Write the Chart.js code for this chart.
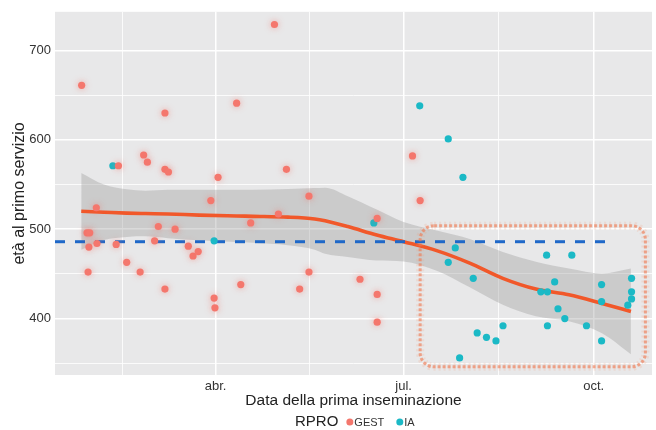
<!DOCTYPE html>
<html>
<head>
<meta charset="utf-8">
<title>età al primo servizio</title>
<script src="https://cdn.jsdelivr.net/npm/chart.js@4"></script>
<style>
  html, body { margin: 0; padding: 0; background: #fff; }
  #wrap { width: 656px; height: 430px; }
</style>
</head>
<body>
<div id="wrap"><canvas id="chart" width="656" height="430"></canvas></div>
<script>
// day of year (1 Jan = 0) of the first insemination, age at first service
const gestDays = [25.2, 65.5, 100.2, 118.5, 55.2, 57, 43, 65.5, 67.2, 91.2, 124.3, 87.7, 135.2, 32.3, 120.4, 107, 62.3, 70.4, 27.8, 29.1, 60.5, 28.7, 32.6, 41.9, 76.8, 79.1, 81.6, 47, 28.3, 53.5, 65.5, 102.2, 89.3, 89.7, 130.7, 135.2, 168.2, 159.9, 168.2, 168.2, 185.3, 189];
const gestAge = [661, 630, 641, 729, 583, 575, 571, 567, 564, 558, 567, 532, 537, 524, 517, 507, 503, 500, 496, 496, 487, 480, 484, 483, 481, 470, 475, 463, 452, 452, 433, 438, 423, 412, 433, 452, 512, 444, 427, 396, 582, 532];

const iaDays = [40.3, 89.3, 166.6, 188.8, 202.6, 209.7, 206, 202.6, 214.7, 250.2, 262.4, 254.1, 247.4, 250.6, 255.7, 259, 250.6, 269.5, 276.8, 276.8, 276.8, 289.5, 291.3, 291.3, 291.3, 229.1, 216.6, 221.1, 225.7, 208.1];
const iaAge = [571, 487, 507, 638, 601, 558, 479, 463, 445, 471, 471, 441, 430, 430, 411, 400, 392, 392, 438, 419, 375, 415, 445, 430, 422, 392, 384, 379, 375, 356];

// loess fit with its confidence band
const smoothDays = [25, 36, 47, 56, 67, 82, 100, 108, 125, 138, 143, 154, 168, 181, 197, 213, 229, 245, 261, 277, 291];
const smoothFit = [520, 519, 518, 517.5, 517, 515.8, 514.8, 514.4, 513.5, 511.5, 509.5, 503, 493.5, 486, 476, 462, 445, 433, 426.6, 417, 408];
const smoothUpper = [563, 550, 544.6, 543, 544, 544, 544, 544, 545, 546, 546.5, 537, 522, 508, 498.5, 489, 474.5, 463.5, 456, 450.5, 456];
const smoothLower = [477, 488, 491.4, 492, 490, 487.6, 485.6, 484.8, 482, 477, 472.5, 469, 465, 464, 453.5, 435, 415.5, 402.5, 397, 383.5, 360];

// mean reference line and highlighted zone
const meanAge = 486;
const meanDays = [12.3, 282.5];
const rectDays = [189, 298];
const rectAge = [346, 504];

const xTickDays = [45, 90, 135.5, 181, 227, 273];
const xTickLabels = ['', 'abr.', '', 'jul.', '', 'oct.'];
const yTickValues = [350, 400, 450, 500, 550, 600, 650, 700];
const yTickLabels = ['', '400', '', '500', '', '600', '', '700'];

const FONT = '"Liberation Sans", Arial, sans-serif';
const RED = '#f4776d';
const TEAL = '#1bb9c6';

const pts = (xs, ys) => xs.map((d, i) => ({ x: d, y: ys[i] }));

const panelBg = {
  id: 'panelBg',
  beforeDraw(chart) {
    const { ctx, chartArea: a } = chart;
    ctx.save();
    ctx.fillStyle = '#fff';
    ctx.fillRect(0, 0, chart.width, chart.height);
    ctx.fillStyle = '#e8e8e9';
    ctx.fillRect(a.left, a.top, a.right - a.left, a.bottom - a.top);
    ctx.restore();
  }
};

const redHalo = {
  id: 'redHalo',
  beforeDatasetDraw(chart, args) {
    if (args.index !== 0) return;
    chart.ctx.save();
    chart.ctx.shadowColor = 'rgba(245,105,95,0.55)';
    chart.ctx.shadowBlur = 6;
  },
  afterDatasetDraw(chart, args) {
    if (args.index !== 0) return;
    chart.ctx.restore();
  }
};

const zoneBox = {
  id: 'zoneBox',
  afterDatasetsDraw(chart) {
    const { ctx, chartArea: a, scales: { x, y } } = chart;
    const x0 = x.getPixelForValue(rectDays[0]);
    const x1 = x.getPixelForValue(rectDays[1]);
    const y0 = y.getPixelForValue(rectAge[1]);
    const y1 = y.getPixelForValue(rectAge[0]);
    ctx.save();
    ctx.beginPath();
    ctx.rect(a.left, a.top, a.right - a.left, a.bottom - a.top);
    ctx.clip();
    ctx.beginPath();
    ctx.roundRect(x0, y0, x1 - x0, y1 - y0, 14);
    ctx.strokeStyle = 'rgba(245,150,110,0.18)';
    ctx.lineWidth = 8;
    ctx.setLineDash([2, 3]);
    ctx.stroke();
    ctx.beginPath();
    ctx.roundRect(x0, y0, x1 - x0, y1 - y0, 14);
    ctx.strokeStyle = 'rgba(238,120,80,0.6)';
    ctx.lineWidth = 3;
    ctx.setLineDash([3, 2]);
    ctx.stroke();
    ctx.restore();
  }
};

const bottomLegend = {
  id: 'bottomLegend',
  afterDraw(chart) {
    const { ctx } = chart;
    const yc = 422;
    ctx.save();
    ctx.textBaseline = 'middle';
    ctx.textAlign = 'left';
    ctx.fillStyle = '#222';
    ctx.font = '15px ' + FONT;
    let x = 295;
    ctx.fillText('RPRO', x, yc);
    x += ctx.measureText('RPRO').width + 8;
    ctx.fillStyle = RED;
    ctx.beginPath(); ctx.arc(x + 3.5, yc, 3.5, 0, Math.PI * 2); ctx.fill();
    x += 8;
    ctx.fillStyle = '#333';
    ctx.font = '11px ' + FONT;
    ctx.fillText('GEST', x, yc + 1);
    x += ctx.measureText('GEST').width + 12;
    ctx.fillStyle = TEAL;
    ctx.beginPath(); ctx.arc(x + 3.5, yc, 3.5, 0, Math.PI * 2); ctx.fill();
    x += 8;
    ctx.fillStyle = '#333';
    ctx.fillText('IA', x, yc + 1);
    ctx.restore();
  }
};

new Chart(document.getElementById('chart'), {
  type: 'line',
  data: {
    datasets: [
      {
        label: 'GEST',
        data: pts(gestDays, gestAge),
        showLine: false,
        pointRadius: 3.6,
        pointBorderWidth: 0,
        pointBackgroundColor: RED,
        order: 0
      },
      {
        label: 'IA',
        data: pts(iaDays, iaAge),
        showLine: false,
        pointRadius: 3.6,
        pointBorderWidth: 0,
        pointBackgroundColor: TEAL,
        order: 0
      },
      {
        label: 'media',
        data: meanDays.map(d => ({ x: d, y: meanAge })),
        borderColor: '#1f68c8',
        borderWidth: 3,
        borderDash: [10, 10],
        pointRadius: 0,
        order: 1
      },
      {
        label: 'loess',
        data: pts(smoothDays, smoothFit),
        borderColor: '#f1582a',
        borderWidth: 3.6,
        pointRadius: 0,
        cubicInterpolationMode: 'monotone',
        order: 2
      },
      {
        label: 'upper',
        data: pts(smoothDays, smoothUpper),
        borderWidth: 0,
        pointRadius: 0,
        backgroundColor: 'rgba(150,150,150,0.35)',
        fill: '+1',
        cubicInterpolationMode: 'monotone',
        order: 3
      },
      {
        label: 'lower',
        data: pts(smoothDays, smoothLower),
        borderWidth: 0,
        pointRadius: 0,
        fill: false,
        cubicInterpolationMode: 'monotone',
        order: 4
      }
    ]
  },
  options: {
    responsive: false,
    animation: false,
    events: [],
    layout: { padding: { top: 8, left: 0, right: 0, bottom: 0 } },
    plugins: {
      legend: { display: false },
      tooltip: { enabled: false },
      title: { display: false }
    },
    scales: {
      x: {
        type: 'linear',
        min: 12.3,
        max: 301.2,
        afterBuildTicks: s => { s.ticks = xTickDays.map(v => ({ value: v })); },
        afterFit: s => { s.height = 55; },
        grid: {
          color: '#ffffff',
          lineWidth: c => (xTickLabels[c.index] ? 1.5 : 0.8),
          drawTicks: false
        },
        border: { display: false },
        ticks: {
          autoSkip: false,
          maxRotation: 0,
          padding: 4,
          color: '#333',
          font: { family: FONT, size: 13 },
          callback: (v, i) => xTickLabels[i]
        },
        title: {
          display: true,
          text: 'Data della prima inseminazione',
          color: '#222',
          font: { family: FONT, size: 15.5 },
          padding: { top: 0, bottom: 20 }
        }
      },
      y: {
        type: 'linear',
        min: 336.9,
        max: 743.2,
        afterBuildTicks: s => { s.ticks = yTickValues.map(v => ({ value: v })); },
        afterFit: s => { s.width = 55; },
        grid: {
          color: '#ffffff',
          lineWidth: c => (yTickLabels[c.index] ? 1.5 : 0.8),
          drawTicks: false
        },
        border: { display: false },
        ticks: {
          autoSkip: false,
          padding: 4,
          color: '#333',
          font: { family: FONT, size: 13 },
          callback: (v, i) => yTickLabels[i]
        },
        title: {
          display: true,
          text: 'età al primo servizio',
          color: '#222',
          font: { family: FONT, size: 16 },
          padding: { top: 10, bottom: 0 }
        }
      }
    }
  },
  plugins: [panelBg, redHalo, zoneBox, bottomLegend]
});
</script>
</body>
</html>
